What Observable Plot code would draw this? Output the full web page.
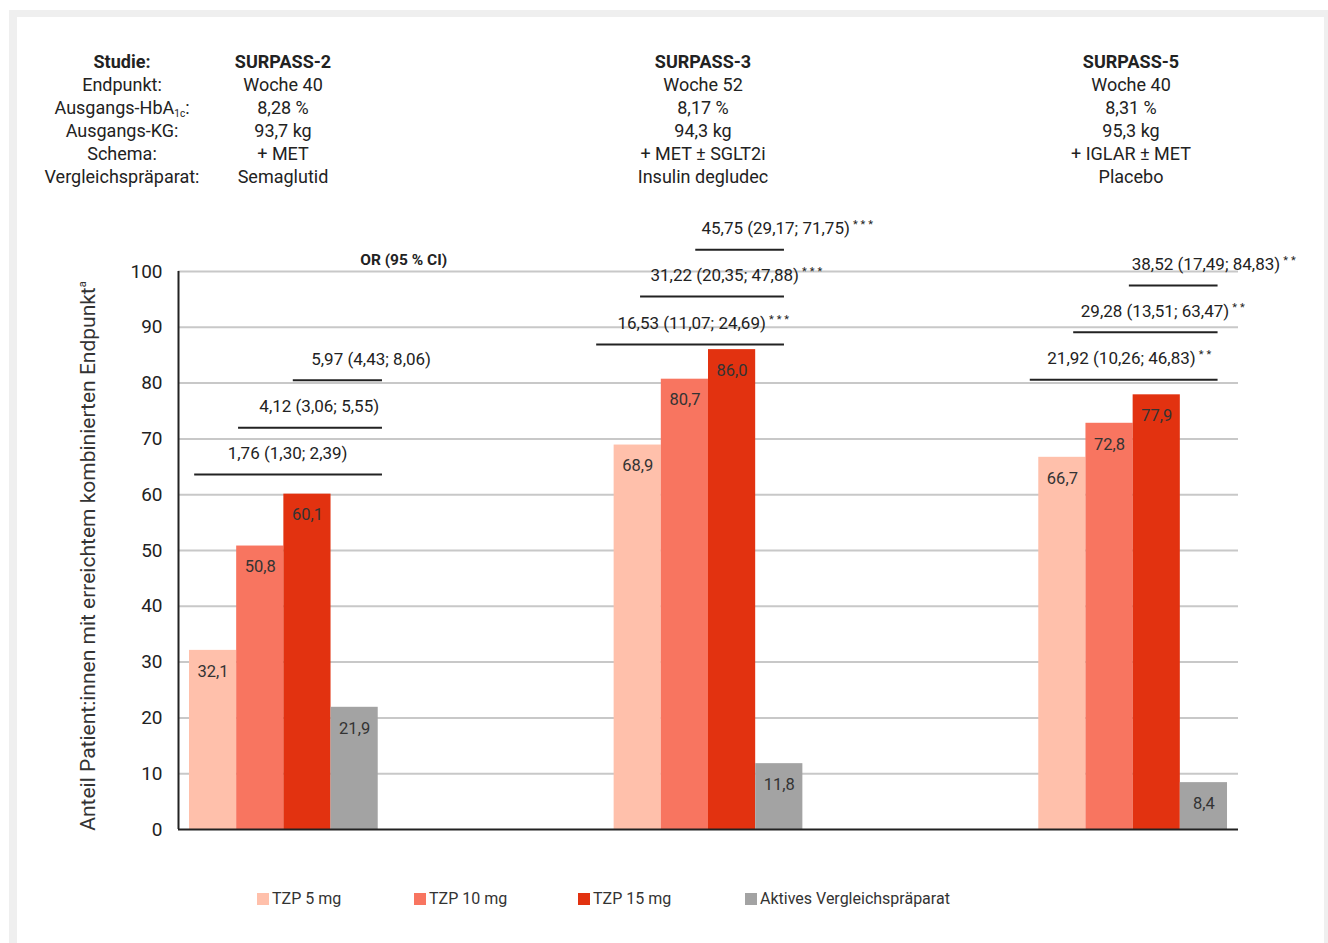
<!DOCTYPE html>
<html>
<head>
<meta charset="utf-8">
<script src="https://cdn.jsdelivr.net/npm/d3@7"></script>
<script src="https://cdn.jsdelivr.net/npm/@observablehq/plot@0.6"></script>
<style>
  html, body { margin: 0; padding: 0; background: #fff; }
  body { width: 1328px; height: 943px; position: relative; overflow: hidden; font-family: Roboto, "Noto Sans", sans-serif; color: #222; }
  #outer { position: absolute; left: 9px; top: 10px; width: 1330px; height: 950px; background: #efefef; }
  #inner { position: absolute; left: 17px; top: 17px; width: 1307px; height: 940px; background: #fff; }
  .hcol { position: absolute; top: 50px; text-align: center; font-size: 18px; line-height: 23px; white-space: nowrap; transform: translateX(-50%); }
  .hcol div:first-child { font-weight: bold; }
  .hcol sub { font-size: 10px; vertical-align: -3px; line-height: 0; }
  #chart { position: absolute; left: 0; top: 200px; }
  #ylabel { position: absolute; left: 88px; top: 556px; transform: translate(-50%, -50%) rotate(-90deg); font-size: 21px; white-space: nowrap; color: #333; }
  #ylabel sup { font-size: 11px; vertical-align: 9px; line-height: 0; }
  .leg { position: absolute; top: 889px; font-size: 16px; color: #333; white-space: nowrap; }
  .leg span.sw { display: inline-block; width: 12px; height: 12px; margin-right: 3px; vertical-align: -1px; }
</style>
</head>
<body>
<div id="outer"></div>
<div id="inner"></div>
<div id="header"></div>
<div id="ylabel">Anteil Patient:innen mit erreichtem kombinierten Endpunkt<sup>a</sup></div>
<div id="chart"></div>
<div id="legend"></div>
<script>
// ---------- data ----------
const studies = ["SURPASS-2", "SURPASS-3", "SURPASS-5"];
const treatments = ["TZP 5 mg", "TZP 10 mg", "TZP 15 mg", "Aktives Vergleichspräparat"];
const colors = ["#ffc0ab", "#f87560", "#e23210", "#a3a3a3"];
const values_S2 = [32.1, 50.8, 60.1, 21.9];
const values_S3 = [68.9, 80.7, 86.0, 11.8];
const values_S5 = [66.7, 72.8, 77.9, 8.4];
const yTicks = [0, 10, 20, 30, 40, 50, 60, 70, 80, 90, 100];

const headerLabels = ["Studie:", "Endpunkt:", "Ausgangs-HbA<sub>1c</sub>:", "Ausgangs-KG:", "Schema:", "Vergleichspräparat:"];
const header_S2 = ["SURPASS-2", "Woche 40", "8,28 %", "93,7 kg", "+ MET", "Semaglutid"];
const header_S3 = ["SURPASS-3", "Woche 52", "8,17 %", "94,3 kg", "+ MET ± SGLT2i", "Insulin degludec"];
const header_S5 = ["SURPASS-5", "Woche 40", "8,31 %", "95,3 kg", "+ IGLAR ± MET", "Placebo"];

const or_S2 = ["1,76 (1,30; 2,39)", "4,12 (3,06; 5,55)", "5,97 (4,43; 8,06)"];
const or_S3 = ["16,53 (11,07; 24,69)***", "31,22 (20,35; 47,88)***", "45,75 (29,17; 71,75)***"];
const or_S5 = ["21,92 (10,26; 46,83)**", "29,28 (13,51; 63,47)**", "38,52 (17,49; 84,83)**"];
const orTitle = "OR (95 % CI)";

// ---------- annotation layout (bar units within a study group, y in % units) ----------
const groupStep = 9;
const bracketLayout = [
  { y: [63.6, 72.0, 80.5], x1: [0.11, 1.04, 2.2], x2: 4.09, tx: [0.81, 1.48, 2.58] },
  { y: [86.9, 95.5, 103.9], x1: [-0.37, 0.56, 1.73], x2: 3.61, tx: [0.07, 0.77, 1.85] },
  { y: [80.6, 89.1, 97.5], x1: [-0.18, 0.74, 1.92], x2: 3.8, tx: [0.18, 0.89, 1.97] }
];

// ---------- build tables ----------
const allValues = [values_S2, values_S3, values_S5];
const allOR = [or_S2, or_S3, or_S5];
const bars = [];
studies.forEach((s, g) => treatments.forEach((t, i) => {
  bars.push({ study: s, treatment: t, value: allValues[g][i], u: g * groupStep + i, color: colors[i] });
}));
const brackets = [];
studies.forEach((s, g) => allOR[g].forEach((txt, k) => {
  const L = bracketLayout[g];
  brackets.push({ y: L.y[k], x1: g * groupStep + L.x1[k], x2: g * groupStep + L.x2, tx: g * groupStep + L.tx[k], text: txt });
}));
const fmt = v => v.toFixed(1).replace(".", ",");

// ---------- header ----------
const header = document.getElementById("header");
const cols = [[headerLabels, 122], [header_S2, 283], [header_S3, 703], [header_S5, 1131]];
cols.forEach(([lines, cx]) => {
  const d = document.createElement("div");
  d.className = "hcol";
  d.style.left = cx + "px";
  d.innerHTML = lines.map(l => `<div>${l}</div>`).join("");
  header.appendChild(d);
});

// ---------- chart ----------
const chart = Plot.plot({
  width: 1328,
  height: 649,
  marginLeft: 178,
  marginRight: 90,
  marginTop: 71,
  marginBottom: 20,
  style: { fontFamily: "Roboto, 'Noto Sans', sans-serif", overflow: "visible", background: "transparent" },
  x: { type: "linear", domain: [-0.233, 22.233], axis: null },
  y: { domain: [0, 100], axis: null },
  marks: [
    Plot.ruleY(yTicks.filter(d => d > 0), { stroke: "#c8c8c8", strokeWidth: 2 }),
    Plot.axisY({ ticks: yTicks, tickSize: 0, tickPadding: 16, fontSize: 19, fill: "#222", label: null }),
    Plot.rectY(bars, { x1: "u", x2: d => d.u + 1, y1: 0, y2: "value", fill: "color" }),
    Plot.text(bars, { x: d => d.u + 0.5, y: "value", text: d => fmt(d.value), dy: 21, fontSize: 16.5, fill: "#333" }),
    Plot.ruleY([0], { stroke: "#222", strokeWidth: 2 }),
    Plot.ruleX([-0.233], { y1: 0, y2: 100, stroke: "#222", strokeWidth: 2 }),
    Plot.ruleY(brackets, { y: "y", x1: "x1", x2: "x2", stroke: "#222", strokeWidth: 2 }),
    Plot.text(brackets, { x: "tx", y: "y", text: "text", textAnchor: "start", dy: -21, fontSize: 17, fill: "#222", className: "or-label" }),
    Plot.text([orTitle], { x: 4.54, y: 102, text: d => d, fontSize: 15.5, fontWeight: "bold", fill: "#222" })
  ]
});
document.getElementById("chart").appendChild(chart);

// superscript asterisks
chart.querySelectorAll("g.or-label text").forEach(t => {
  const m = t.textContent.match(/^(.*?)(\*+)$/);
  if (m) {
    t.textContent = m[1];
    const ts = document.createElementNS("http://www.w3.org/2000/svg", "tspan");
    ts.setAttribute("dy", "-6");
    ts.setAttribute("dx", "3");
    ts.setAttribute("font-size", "11");
    ts.setAttribute("letter-spacing", "3");
    ts.textContent = m[2];
    t.appendChild(ts);
  }
});

// ---------- legend ----------
const legend = document.getElementById("legend");
const legX = [257, 414, 578, 745];
treatments.forEach((t, i) => {
  const d = document.createElement("div");
  d.className = "leg";
  d.style.left = legX[i] + "px";
  d.innerHTML = `<span class="sw" style="background:${colors[i]}"></span>${t}`;
  legend.appendChild(d);
});
</script>
</body>
</html>
